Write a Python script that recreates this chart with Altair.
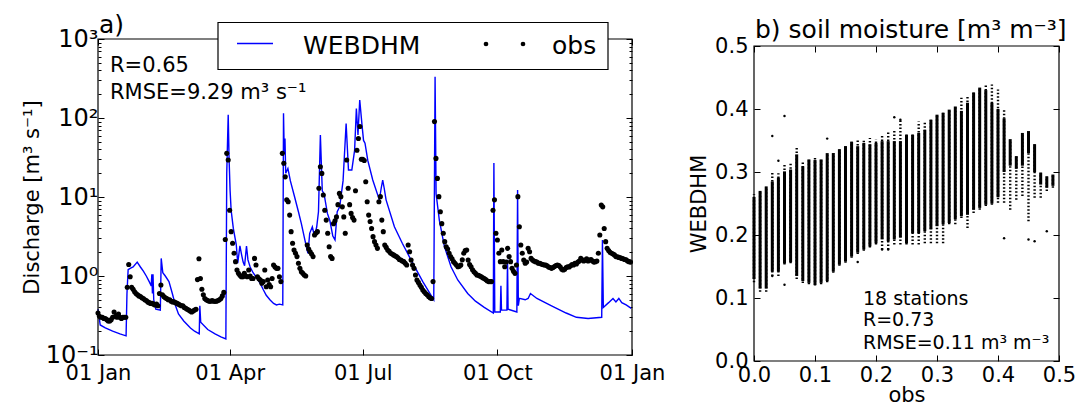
import altair as alt
import pandas as pd

FONT = "DejaVu Sans"

# ---------------- panel a: discharge ----------------
web_day = [0, 0.8, 1.5, 5, 10, 15, 19.2, 19.8, 20.6, 22, 24, 26.8, 29, 31, 33, 35, 36.4, 36.8, 37.2, 37.6, 38.1,
           39.5, 42.6, 43.2, 44.3, 46, 48.5, 50.8, 53, 55, 58.6, 63.2, 66, 69.2, 69.6, 70.2, 75, 80, 84, 87.4,
           88, 89, 89.6, 90.3, 91, 92.5, 94.5, 95.5, 97, 98.3, 99.2, 100.2, 101.5, 102.5, 104, 106, 108.5, 111,
           113, 115, 117.5, 120, 122, 124, 126.3,
           126.8, 127.3, 127.8, 128.3, 129.8, 131.5, 134.4, 137, 139, 141.5, 143.5,
           144.7, 146.5, 148, 149.5, 150.7, 152.0, 153.3, 154.5, 156.8, 158.5, 160.5, 162, 163.5, 165.2, 167.5,
           169.6, 171.2, 173.5, 175.4, 176.6, 177.7, 178.9,
           180.5, 181.5, 182.5, 184.4, 187.8, 192.3, 193.6, 194.6, 195.6, 196.9, 202.6, 208, 214, 222, 229.5,
           230.4, 231.1, 233.3, 236.8, 241.3, 245.9, 252.7, 258, 264, 270.2,
           270.6, 271.2, 275, 275.4, 275.8, 279.5, 279.9, 280.3, 286.3, 286.8, 287.3, 288, 292, 294, 295.6, 300,
           310, 320, 327, 335, 344.3,
           344.8, 345.4, 349, 352, 354, 356, 358, 361, 364.5]
web_q = [0.38, 0.30, 0.24, 0.22, 0.20, 0.185, 0.175, 0.6, 1.2, 1.25, 1.3, 1.5, 1.3, 1.15, 1.0, 0.85, 0.75, 1.05, 0.6, 1.05, 0.5,
         0.38, 0.37, 1.67, 1.1, 1.0, 0.85, 0.6, 0.42, 0.33, 0.27, 0.22, 0.2, 0.185, 0.42, 0.26, 0.21, 0.185, 0.17, 0.16,
         20, 110, 30, 12, 6.8, 4.0, 2.5, 1.45, 2.4, 1.8, 1.5, 1.35, 2.4, 1.6, 1.3, 1.1, 0.95, 0.8,
         0.67, 0.57, 0.5, 0.45, 0.43, 0.44, 0.43,
         115, 35, 55, 20, 23, 16, 10, 6.5, 4.6, 2.8, 1.94,
         3.47, 4.2, 3.15, 4.2, 6.5, 61, 12, 11, 6.2, 5.0, 3.2, 2.86, 6.5, 7.5, 16,
         85, 22, 22, 39, 132, 61, 169,
         80, 52, 48, 29, 16.4, 9.2, 13, 16.4, 13, 9.2, 4.2, 2.6, 1.59, 0.85, 0.5,
         333, 11, 5.1, 2.35, 1.31, 0.89, 0.60, 0.48, 0.40, 0.34,
         27, 0.35, 0.35, 0.75, 0.37, 0.37, 1.6, 0.38, 0.35, 12.3, 0.42, 0.52, 0.5, 0.52, 0.6, 0.52,
         0.42, 0.34, 0.30, 0.29, 0.30,
         2.86, 0.40, 0.46, 0.52, 0.47, 0.52, 0.46, 0.43, 0.39]

obs_a = [0.34, 0.31, 0.30, 0.30, 0.29, 0.29, 0.28, 0.27, 0.27, 0.28, 0.30, 0.35, 0.31, 0.30, 0.33, 0.30, 0.29, 0.30, 0.30, 0.30]
obs_b = [0.72, 1.4, 0.98, 0.72, 0.68, 0.63, 0.60, 0.58, 0.56, 0.55, 0.53, 0.52, 0.50, 0.49, 0.47, 0.46, 0.45, 0.45, 0.44, 0.43, 0.44, 0.42]
obs_c = [0.60, 0.77, 0.58, 0.55, 0.53, 0.52, 0.50, 0.50, 0.48, 0.47, 0.47, 0.46, 0.45, 0.44, 0.43, 0.42, 0.42, 0.40, 0.39,
         0.38, 0.37, 0.36, 0.35, 0.36, 0.37, 0.38]
obs_d = [0.90, 1.65, 0.93, 0.68, 0.58, 0.52, 0.50, 0.49, 0.48, 0.48, 0.49, 0.48, 0.48, 0.48, 0.49, 0.50, 0.52, 0.56, 0.62, 2.9]
obs_e = [35.7, 29.4, 6.8, 3.64, 2.6, 1.94, 1.52, 1.19, 1.08, 1.02, 0.98, 0.98, 1.08, 1.0, 0.98, 1.19, 1.0, 0.93, 0.93,
         1.67, 1.38, 0.98, 0.92, 0.89, 0.81, 0.85, 1.19, 0.73, 0.89, 0.78, 0.73, 0.93, 1.38, 1.3, 1.25, 1.25, 0.98, 0.85]
obs_f = [35.7, 26.7, 18, 9.2, 8.7, 5.9, 3.64, 2.6, 2.13, 1.94, 1.76, 1.45, 1.25, 1.13, 1.08, 1.03, 1.0,
         2.47, 2.2, 2.03, 1.9, 1.76, 3.3, 3.5, 3.64, 12.9, 24.2, 19.9, 10.6, 6.8, 5.1, 3.47, 2.35, 1.76, 1.67,
         4.6, 5.0, 5.6, 8.0, 11.1, 10.1, 7.5, 5.6, 3.47, 29.4, 12.9, 8.0, 6.2, 5.5, 5.1, 12.0, 39, 55, 78]
obs_g = [30, 30, 29, 15.6, 8.7, 5.9, 4.9, 4.0, 3.15, 2.72, 2.47, 2.24,
         8.7, 10.1, 5.1, 3.64, 2.47, 2.3, 2.13, 2.05, 1.94, 1.9, 1.85, 1.8, 1.76, 1.7, 1.62, 1.59, 1.55, 1.52, 1.45, 1.38,
         2.47, 2.03, 1.59, 1.38, 1.25, 1.03, 0.89, 0.83, 0.77, 0.72, 0.665, 0.63, 0.60, 0.58, 0.55, 0.53, 0.52, 0.85]
obs_h = [90, 30.8, 17.2, 10.1, 6.5, 4.6, 3.47, 2.72, 2.35,
         2.2, 1.94, 1.76, 1.65, 1.52, 1.45, 1.38, 1.31, 1.33, 1.38, 1.6, 1.94, 2.1, 2.13, 1.59, 1.4, 1.31, 1.2, 1.13,
         1.08, 1.03, 1.02, 1.0, 0.98, 0.95, 0.93, 0.9, 0.87, 0.85, 0.85, 0.85, 6.8, 9.2]
obs_i = [3.47, 2.86, 1.94, 1.52, 2.13, 1.52, 1.31, 1.5, 2.24, 1.76, 1.52, 1.25, 1.15, 1.08, 1.38, 10.1, 4.2, 2.47,
         1.94, 1.59, 1.45, 1.5, 2.24, 2.03, 1.67, 1.59, 1.55, 1.52, 1.5, 1.45, 1.45, 1.42, 1.4, 1.38, 1.38, 1.35, 1.3,
         1.28, 1.25, 1.28, 1.32, 1.36, 1.38, 1.36, 1.3, 1.22, 1.19, 1.22, 1.28, 1.31, 1.3, 1.35, 1.4, 1.38, 1.45, 1.42,
         1.5, 1.55, 1.67, 1.6, 1.55, 1.59, 1.65, 1.55, 1.59, 1.62, 1.55, 1.5, 1.52, 1.55, 1.94, 3.3, 7.9, 7.5, 4.0,
         2.72, 2.24, 2.1, 2.0, 1.94, 1.9, 1.85, 1.76, 1.75, 1.72, 1.7, 1.67, 1.65, 1.62, 1.6, 1.55, 1.52, 1.5]
obs_segments = [(0, obs_a), (20, obs_b), (42, obs_c), (68, obs_d), (88, obs_e), (126, obs_f),
                (180, obs_g), (230, obs_h), (272, obs_i)]

a_xtick_days = [0, 90, 181, 273, 365]
a_xtick_labels = ["01 Jan", "01 Apr", "01 Jul", "01 Oct", "01 Jan"]
a_ytick_vals = [0.1, 1, 10, 100, 1000]
a_ytick_labels = ["10⁻¹", "10⁰", "10¹", "10²", "10³"]
a_minor = [m * d for d in [0.1, 1, 10, 100] for m in range(2, 10)]

# ---------------- panel b: soil moisture ----------------
sm_obs = [0.00, 0.01, 0.02, 0.03, 0.04, 0.05, 0.06, 0.07, 0.08, 0.09, 0.10, 0.11, 0.12, 0.13, 0.14, 0.15, 0.16,
          0.17, 0.18, 0.19, 0.20, 0.21, 0.22, 0.23, 0.24, 0.25, 0.26, 0.27, 0.28, 0.29, 0.30, 0.31, 0.32, 0.33,
          0.34, 0.35, 0.36, 0.37, 0.38, 0.39, 0.40, 0.41, 0.42, 0.43, 0.44, 0.45, 0.46, 0.47, 0.48, 0.49]
sm_bot = [0.125, 0.11, 0.11, 0.135, 0.135, 0.153, 0.155, 0.13, 0.124, 0.122, 0.12, 0.122, 0.125, 0.14, 0.151, 0.156,
          0.164, 0.17, 0.175, 0.18, 0.185, 0.177, 0.177, 0.185, 0.185, 0.185, 0.185, 0.185, 0.187, 0.187, 0.187,
          0.187, 0.217, 0.217, 0.227, 0.211, 0.235, 0.24, 0.246, 0.248, 0.251, 0.251, 0.24, 0.256, 0.262, 0.222,
          0.259, 0.259, 0.27, 0.275]
sm_lo = [0.13, 0.115, 0.115, 0.142, 0.142, 0.155, 0.157, 0.135, 0.127, 0.124, 0.121, 0.124, 0.127, 0.142, 0.153,
         0.158, 0.166, 0.172, 0.177, 0.182, 0.187, 0.193, 0.19, 0.193, 0.196, 0.187, 0.203, 0.203, 0.206, 0.209,
         0.214, 0.217, 0.219, 0.225, 0.23, 0.232, 0.24, 0.243, 0.248, 0.25, 0.26, 0.30, 0.31, 0.305, 0.31, 0.33,
         0.30, 0.28, 0.275, 0.278]
sm_hi = [0.26, 0.27, 0.277, 0.285, 0.291, 0.301, 0.304, 0.328, 0.309, 0.32, 0.319, 0.32, 0.33, 0.33, 0.336, 0.341,
         0.348, 0.341, 0.346, 0.344, 0.346, 0.349, 0.349, 0.349, 0.349, 0.359, 0.359, 0.362, 0.367, 0.383, 0.391,
         0.394, 0.399, 0.404, 0.397, 0.41, 0.426, 0.434, 0.43, 0.41, 0.40, 0.385, 0.352, 0.325, 0.362, 0.365,
         0.344, 0.299, 0.293, 0.296]
sm_top = [0.265, 0.27, 0.277, 0.30, 0.298, 0.314, 0.314, 0.341, 0.317, 0.32, 0.324, 0.32, 0.33, 0.33, 0.336, 0.341,
          0.348, 0.35, 0.35, 0.354, 0.352, 0.357, 0.365, 0.367, 0.383, 0.362, 0.362, 0.38, 0.38, 0.383, 0.391,
          0.394, 0.399, 0.404, 0.418, 0.42, 0.426, 0.434, 0.439, 0.439, 0.431, 0.399, 0.352, 0.325, 0.362, 0.365,
          0.344, 0.299, 0.293, 0.296]
out_obs = [0.03, 0.04, 0.05, 0.12, 0.23, 0.24, 0.05, 0.17, 0.41, 0.45, 0.46, 0.48, 0.03, 0.21, 0.22]
out_sim = [0.357, 0.318, 0.389, 0.353, 0.387, 0.383, 0.121, 0.157, 0.195, 0.193, 0.19, 0.206, 0.135, 0.177, 0.177]
b_ticks = [0.0, 0.1, 0.2, 0.3, 0.4, 0.5]

# ---------------- texts ----------------
legend_labels = ["WEBDHM", "obs"]
txt_a_title = "a)"
txt_a_stats = ["R=0.65", "RMSE=9.29 m³ s⁻¹"]
txt_b_title = "b) soil moisture [m³ m⁻³]"
txt_b_stats = ["18 stations", "R=0.73", "RMSE=0.11 m³ m⁻³"]

# ---------------- layout constants ----------------
W, H = 961, 322          # whole drawing area (both panels)
A_W, A_H = 534, 316      # panel a
B_X0, B_X1, B_Y0 = 656, 961, 7   # panel b placement inside drawing area

obs_rows = []
for start, vals in obs_segments:
    for i, v in enumerate(vals):
        obs_rows.append({"day": start + i, "q": v})
obs_df = pd.DataFrame(obs_rows)
web_df = pd.DataFrame({"day": web_day, "q": web_q})
sm_df = pd.DataFrame({"obs": sm_obs, "bot": sm_bot, "lo": sm_lo, "hi": sm_hi, "top": sm_top})
out_df = pd.DataFrame({"obs": out_obs, "sim": out_sim})

xa = alt.Scale(domain=[0, 365], range=[0, A_W], nice=False, zero=False)
ya = alt.Scale(type="log", domain=[0.1, 1000], range=[A_H, 0], nice=False)
xb = alt.Scale(domain=[0, 0.5], range=[B_X0, B_X1], nice=False, zero=False)
yb = alt.Scale(domain=[0, 0.5], range=[H, B_Y0], nice=False, zero=False)


def label_expr(vals, labels):
    expr = "''"
    for v, lab in reversed(list(zip(vals, labels))):
        expr = f"abs(datum.value - {v}) < {abs(v) * 0.01 + 1e-6} ? '{lab}' : " + expr
    return expr


AXBASE = dict(grid=False, domain=False, labelFont=FONT, labelColor="black", titleFont=FONT,
              titleColor="black", titleFontWeight="normal", labelFlush=False, labelOverlap=False,
              tickColor="black", tickWidth=1)


def tick_axis(ch, scale, orient, offset, values, size, field_val):
    d = pd.DataFrame({"v": [field_val]})
    ax = alt.Axis(orient=orient, offset=offset, values=values, ticks=True, tickSize=size, labels=False,
                  title=None, **AXBASE)
    enc = alt.Y("v:Q", scale=scale, axis=ax) if ch == "y" else alt.X("v:Q", scale=scale, axis=ax)
    m = alt.Chart(d).mark_point(opacity=0)
    return m.encode(y=enc) if ch == "y" else m.encode(x=enc)


layers = []

# panel a data
layers.append(alt.Chart(web_df).mark_line(color="#0000ff", strokeWidth=1.4).encode(
    x=alt.X("day:Q", scale=xa, axis=None), y=alt.Y("q:Q", scale=ya, axis=None), order="day:Q"))
layers.append(alt.Chart(obs_df).mark_circle(color="black", size=26, opacity=1).encode(
    x=alt.X("day:Q", scale=xa, axis=None), y=alt.Y("q:Q", scale=ya, axis=None)))

# panel b data
layers.append(alt.Chart(sm_df).mark_rule(color="black", strokeWidth=2.4, strokeDash=[1.5, 2]).encode(
    x=alt.X("obs:Q", scale=xb, axis=None), y=alt.Y("bot:Q", scale=yb, axis=None), y2="top:Q"))
layers.append(alt.Chart(sm_df).mark_rule(color="black", strokeWidth=3).encode(
    x=alt.X("obs:Q", scale=xb, axis=None), y=alt.Y("lo:Q", scale=yb, axis=None), y2="hi:Q"))
layers.append(alt.Chart(out_df).mark_circle(color="black", size=6, opacity=1).encode(
    x=alt.X("obs:Q", scale=xb, axis=None), y=alt.Y("sim:Q", scale=yb, axis=None)))

# panel a axes (labels)
layers.append(alt.Chart(pd.DataFrame({"v": [1.0]})).mark_point(opacity=0).encode(
    y=alt.Y("v:Q", scale=ya, axis=alt.Axis(
        orient="left", offset=0, values=a_ytick_vals, labelExpr=label_expr(a_ytick_vals, a_ytick_labels),
        ticks=False, tickSize=0, labelPadding=0, labelFontSize=24,
        title="Discharge [m³ s⁻¹]", titleFontSize=21, titleAngle=270, titleX=-60, titleY=A_H / 2,
        titleBaseline="alphabetic", titleAlign="center", **AXBASE))))
layers.append(alt.Chart(pd.DataFrame({"v": [10.0]})).mark_point(opacity=0).encode(
    x=alt.X("v:Q", scale=xa, axis=alt.Axis(
        orient="bottom", offset=A_H - H, values=a_xtick_days,
        labelExpr=label_expr(a_xtick_days, a_xtick_labels),
        ticks=False, tickSize=0, labelPadding=7, labelFontSize=21, title=None, **AXBASE))))
# panel a inward ticks
layers.append(tick_axis("y", ya, "right", -W, a_ytick_vals, 6, 1.0))
layers.append(tick_axis("y", ya, "right", -W, a_minor, 3, 1.0))
layers.append(tick_axis("y", ya, "left", -A_W, a_ytick_vals, 6, 1.0))
layers.append(tick_axis("y", ya, "left", -A_W, a_minor, 3, 1.0))
layers.append(tick_axis("x", xa, "top", -A_H, a_xtick_days, 6, 10.0))
layers.append(tick_axis("x", xa, "bottom", -H, a_xtick_days, 6, 10.0))

# panel b axes (labels)
layers.append(alt.Chart(pd.DataFrame({"v": [0.1]})).mark_point(opacity=0).encode(
    y=alt.Y("v:Q", scale=yb, axis=alt.Axis(
        orient="left", offset=-B_X0, values=b_ticks, format=".1f", ticks=False, tickSize=0,
        labelPadding=6, labelFontSize=21,
        title="WEBDHM", titleFontSize=21, titleAngle=270, titleX=-49, titleY=(H + B_Y0) / 2,
        titleBaseline="alphabetic", titleAlign="center", **AXBASE))))
layers.append(alt.Chart(pd.DataFrame({"v": [0.1]})).mark_point(opacity=0).encode(
    x=alt.X("v:Q", scale=xb, axis=alt.Axis(
        orient="bottom", offset=0, values=b_ticks, format=".1f", ticks=False, tickSize=0,
        labelPadding=3, labelFontSize=21,
        title="obs", titleFontSize=21, titleX=(B_X0 + B_X1) / 2, titleY=40,
        titleBaseline="alphabetic", titleAlign="center", **AXBASE))))
# panel b inward ticks
layers.append(tick_axis("y", yb, "right", -(W - B_X0), b_ticks, 6, 0.1))
layers.append(tick_axis("y", yb, "left", -B_X1, b_ticks, 6, 0.1))
layers.append(tick_axis("x", xb, "top", -H, b_ticks, 6, 0.1))
layers.append(tick_axis("x", xb, "bottom", -(H - B_Y0), b_ticks, 6, 0.1))

# frames
layers.append(alt.Chart(pd.DataFrame({"x0": [0], "x1": [365], "y0": [0.1], "y1": [1000]})).mark_rect(
    fill="white", fillOpacity=0, stroke="black", strokeWidth=1.2).encode(
    x=alt.X("x0:Q", scale=xa, axis=None), x2="x1:Q", y=alt.Y("y0:Q", scale=ya, axis=None), y2="y1:Q"))
layers.append(alt.Chart(pd.DataFrame({"x0": [0.0], "x1": [0.5], "y0": [0.0], "y1": [0.5]})).mark_rect(
    fill="white", fillOpacity=0, stroke="black", strokeWidth=1.2).encode(
    x=alt.X("x0:Q", scale=xb, axis=None), x2="x1:Q", y=alt.Y("y0:Q", scale=yb, axis=None), y2="y1:Q"))


def text_layer(t, x, y, size, align="left"):
    return alt.Chart(pd.DataFrame({"t": [t]})).mark_text(
        align=align, baseline="alphabetic", font=FONT, fontSize=size, color="black").encode(
        text="t:N", x=alt.value(x), y=alt.value(y))


one = pd.DataFrame({"k": [0]})
# legend
layers.append(alt.Chart(one).mark_rect(fill="white", stroke="black", strokeWidth=1.2).encode(
    x=alt.value(120), x2=alt.value(510), y=alt.value(-16.5), y2=alt.value(30.5)))
layers.append(alt.Chart(one).mark_rule(color="#0000ff", strokeWidth=1.4).encode(
    x=alt.value(139), x2=alt.value(175), y=alt.value(4.5)))
layers.append(alt.Chart(one).mark_circle(color="black", size=22, opacity=1).encode(
    x=alt.value(388), y=alt.value(5)))
layers.append(alt.Chart(one).mark_circle(color="black", size=22, opacity=1).encode(
    x=alt.value(425), y=alt.value(5)))
layers.append(text_layer(legend_labels[0], 205, 14.5, 25))
layers.append(text_layer(legend_labels[1], 454, 14.5, 25))

# annotations
layers.append(text_layer(txt_a_title, 1, -6, 25))
layers.append(text_layer(txt_a_stats[0], 12, 32.5, 21))
layers.append(text_layer(txt_a_stats[1], 12, 60, 21))
layers.append(text_layer(txt_b_title, 657, -1, 25))
layers.append(text_layer(txt_b_stats[0], 765, 266, 19))
layers.append(text_layer(txt_b_stats[1], 765, 287, 19))
layers.append(text_layer(txt_b_stats[2], 765, 309.5, 19))

chart = alt.layer(*layers).resolve_scale(x="independent", y="independent").properties(
    width=W, height=H,
    autosize=alt.AutoSizeParams(type="none"),
    padding={"left": 90, "top": 31, "right": 21, "bottom": 46},
).configure_view(strokeWidth=0)

chart.save("out.html", embed_options={"renderer": "svg", "actions": False})
